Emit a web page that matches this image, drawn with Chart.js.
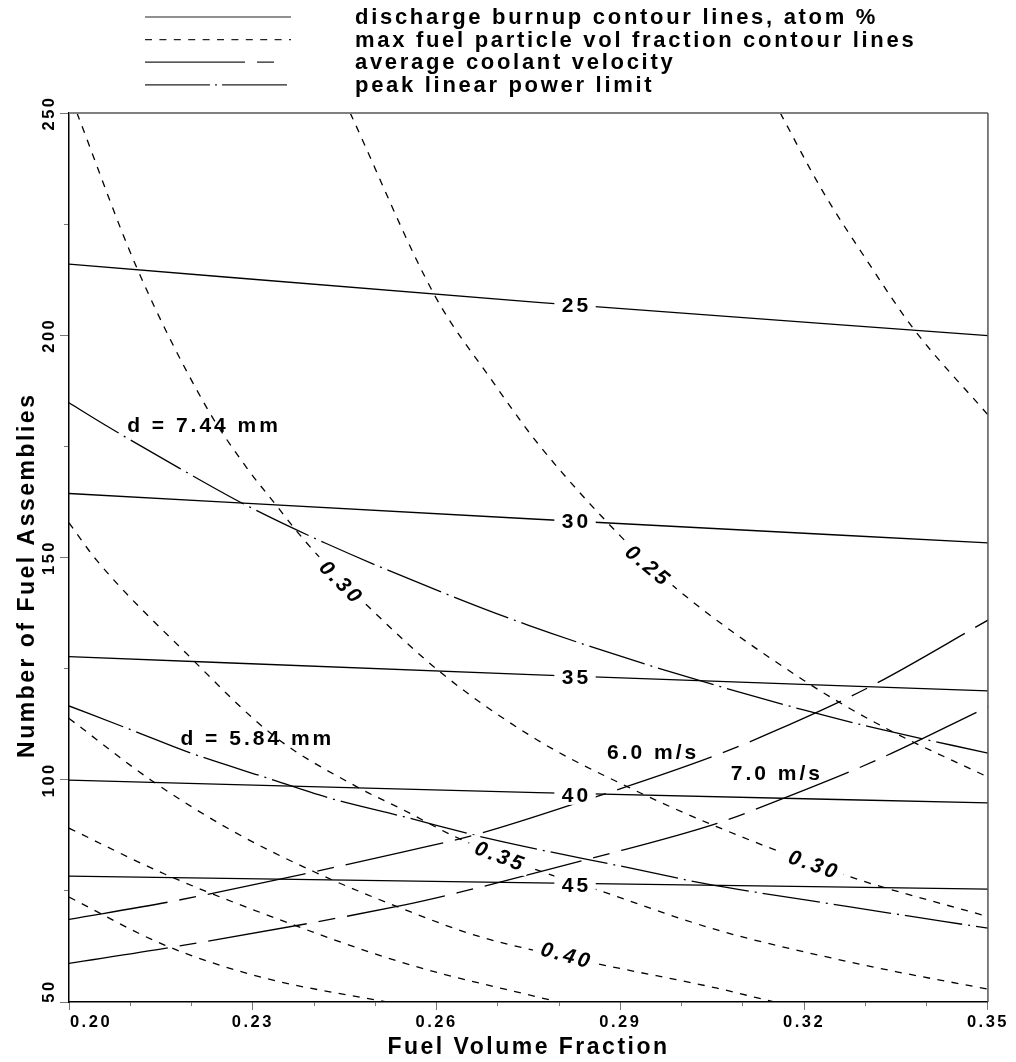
<!DOCTYPE html>
<html>
<head>
<meta charset="utf-8">
<script src="https://cdn.jsdelivr.net/npm/chart.js@4.4.1/dist/chart.umd.min.js"></script>
<style>
html,body{margin:0;padding:0;background:#ffffff;}
#wrap{width:1016px;height:1062px;position:relative;}
canvas{display:block;}
</style>
</head>
<body>
<div id="wrap"><canvas id="c" width="1016" height="1062"></canvas></div>
<script>
// ---------- data ----------
const xTickValues = [0.20,0.21,0.22,0.23,0.24,0.25,0.26,0.27,0.28,0.29,0.30,0.31,0.32,0.33,0.34,0.35];
const xLabelValues = [0.20,0.23,0.26,0.29,0.32,0.35];
const yTickValues = [50,75,100,125,150,175,200,225,250];
const yLabelValues = [50,100,150,200,250];

const xTitle = 'Fuel Volume Fraction';
const yTitle = 'Number of Fuel Assemblies';

const legendLabels = [
  'discharge burnup contour lines, atom %',
  'max fuel particle vol fraction contour lines',
  'average coolant velocity',
  'peak linear power limit'
];

// discharge burnup contour lines (atom %): [fuel volume fraction, number of assemblies]
const burnup25 = [[0.200,216.0],[0.2765,207.4],[0.350,199.9]];
const burnup30 = [[0.200,164.4],[0.2765,158.6],[0.350,153.3]];
const burnup35 = [[0.200,127.7],[0.2765,123.6],[0.350,120.0]];
const burnup40 = [[0.200,99.9],[0.2765,97.1],[0.350,94.8]];
const burnup45 = [[0.200,78.3],[0.2765,76.8],[0.350,75.4]];

// max fuel particle volume fraction contour lines
const frac020 = [[0.3161,250],[0.3229,232.7],[0.3302,216.9],[0.3380,201.2],[0.350,182.1]];
const frac025 = [[0.2459,250],[0.2598,208.7],[0.2690,189.9],[0.2765,175.7],[0.2901,154.7],[0.2988,143.4],[0.3199,122.4],[0.3329,111.9],[0.350,100.6]];
const frac030 = [[0.2013,250],[0.2110,215.4],[0.2224,183.9],[0.2289,170.4],[0.2338,161.8],[0.2370,156.2],[0.2408,150.2],[0.2489,138.9],[0.2608,124.0],[0.2765,108.9],[0.2912,98.4],[0.3058,89.4],[0.3274,78.2],[0.350,69.2]];
const frac035 = [[0.200,157.8],[0.2045,149.4],[0.2191,128.5],[0.2335,109.8],[0.2470,98.4],[0.2546,93.2],[0.2630,87.2],[0.2754,80.2],[0.2863,75.2],[0.3058,66.2],[0.3274,59.0],[0.3351,56.8],[0.350,52.9]];
const frac040 = [[0.200,113.8],[0.2134,99.9],[0.2264,88.7],[0.2400,79.3],[0.2546,70.9],[0.2668,64.8],[0.2863,58.6],[0.3058,53.1],[0.3151,50]];
const frac045 = [[0.200,89.1],[0.2156,78.8],[0.2319,69.8],[0.2546,58.8],[0.2798,50]];
const frac050 = [[0.200,73.6],[0.2156,62.8],[0.2319,55.4],[0.2518,50]];

// average coolant velocity
const vel60 = [[0.200,68.6],[0.2167,72.6],[0.2400,79.3],[0.2546,83.8],[0.2663,87.6],[0.2852,95.8],[0.3058,105.6],[0.3156,111.2],[0.3307,120.9],[0.350,135.9]];
const vel70 = [[0.200,58.7],[0.2167,62.3],[0.2546,71.8],[0.2635,74.6],[0.2852,82.3],[0.3058,90.2],[0.3166,95.8],[0.3318,104.4],[0.350,116.4]];

// peak linear power limit
const pow744 = [[0.200,184.8],[0.2059,179.8],[0.2180,170.1],[0.2283,162.2],[0.2419,153.2],[0.2614,141.9],[0.2749,134.8],[0.2955,125.4],[0.3199,115.7],[0.3329,111.2],[0.350,106.0]];
const pow584 = [[0.200,116.6],[0.2102,111.2],[0.2199,106.0],[0.2319,100.6],[0.2427,95.8],[0.2546,91.7],[0.2684,86.8],[0.2917,80.1],[0.3036,76.7],[0.3275,71.4],[0.350,66.6]];

// in-plot labels: text and where it sits (data coordinates)
const labelTexts = ['25','30','35','40','45','0.30','0.25','0.30','0.35','0.40','6.0 m/s','7.0 m/s','d = 7.44 mm','d = 5.84 mm'];
const labelAnchors = [
  {x:0.2826,y:206.8,angle:0,italic:false,box:true},
  {x:0.2826,y:158.1,angle:0,italic:false,box:true},
  {x:0.2826,y:123.1,angle:0,italic:false,box:true},
  {x:0.2826,y:96.6,angle:0,italic:false,box:true},
  {x:0.2826,y:76.3,angle:0,italic:false,box:true},
  {x:0.2443,y:144.6,angle:45,italic:true,box:true},
  {x:0.2944,y:148.3,angle:40,italic:true,box:true},
  {x:0.3214,y:81.0,angle:19,italic:true,box:true},
  {x:0.2702,y:82.9,angle:21,italic:true,box:true},
  {x:0.2810,y:60.6,angle:15,italic:true,box:true},
  {x:0.2951,y:106.1,angle:0,italic:false,box:false},
  {x:0.3153,y:101.5,angle:0,italic:false,box:false},
  {x:0.2218,y:179.8,angle:0,italic:false,box:false},
  {x:0.2305,y:109.3,angle:0,italic:false,box:false}
];

// ---------- styles ----------
const FONT = "'Liberation Sans', Arial, Helvetica, sans-serif";
const SPACING = '2.5px';
const DASH_SOLID = [];
const DASH_SHORT = [7, 7.4];
const DASH_VEL = [100, 12, 17, 12];
const DASH_POW = [58, 6, 2, 6];
const legendDashes = [DASH_SOLID, DASH_SHORT, DASH_VEL, [65, 5, 2, 5]];
const legendEnds = [291, 291, 279, 287];

function pts(a){ return a.map(p => ({x:p[0], y:p[1]})); }
function series(label, arr, dash){
  return {label, data: pts(arr), borderColor:'#000', borderWidth:1.3, borderDash:dash,
    pointRadius:0, pointHoverRadius:0, pointHitRadius:0, fill:false,
    cubicInterpolationMode:'monotone', xAxisID:'x', yAxisID:'y'};
}
const near = (list, v) => list.some(l => Math.abs(l - v) < 1e-6);

const datasets = [
  series('burnup 25', burnup25, DASH_SOLID),
  series('burnup 30', burnup30, DASH_SOLID),
  series('burnup 35', burnup35, DASH_SOLID),
  series('burnup 40', burnup40, DASH_SOLID),
  series('burnup 45', burnup45, DASH_SOLID),
  series('fraction 0.20', frac020, DASH_SHORT),
  series('fraction 0.25', frac025, DASH_SHORT),
  series('fraction 0.30', frac030, DASH_SHORT),
  series('fraction 0.35', frac035, DASH_SHORT),
  series('fraction 0.40', frac040, DASH_SHORT),
  series('fraction 0.45', frac045, DASH_SHORT),
  series('fraction 0.50', frac050, DASH_SHORT),
  series('velocity 6.0', vel60, DASH_VEL),
  series('velocity 7.0', vel70, DASH_VEL),
  series('power d=7.44', pow744, DASH_POW),
  series('power d=5.84', pow584, DASH_POW)
];

// ---------- plugins ----------
const spacingPlugin = {
  id:'letterSpacing',
  beforeInit(c){ c.ctx.letterSpacing = SPACING; },
  beforeUpdate(c){ c.ctx.letterSpacing = SPACING; },
  beforeLayout(c){ c.ctx.letterSpacing = SPACING; },
  beforeDraw(c){ c.ctx.letterSpacing = SPACING; },
  resize(c){ c.ctx.letterSpacing = SPACING; }
};

const framePlugin = {
  id:'frame',
  afterDraw(c){
    const {ctx, chartArea:a} = c;
    ctx.save();
    ctx.strokeStyle = '#808080';
    ctx.lineWidth = 2;
    ctx.beginPath();
    ctx.moveTo(a.left, a.top);
    ctx.lineTo(a.right, a.top);
    ctx.stroke();
    ctx.strokeStyle = '#555';
    ctx.lineWidth = 1.5;
    ctx.beginPath();
    ctx.moveTo(a.right, a.top);
    ctx.lineTo(a.right, a.bottom);
    ctx.stroke();
    ctx.restore();
  }
};

const labelPlugin = {
  id:'lineLabels',
  afterDatasetsDraw(c){
    const ctx = c.ctx, xs = c.scales.x, ys = c.scales.y;
    ctx.save();
    ctx.letterSpacing = '3px';
    labelTexts.forEach((t, i) => {
      const p = labelAnchors[i];
      const px = xs.getPixelForValue(p.x), py = ys.getPixelForValue(p.y);
      ctx.save();
      ctx.translate(px, py);
      ctx.rotate(p.angle * Math.PI / 180);
      ctx.font = (p.italic ? 'italic ' : '') + 'bold 21px ' + FONT;
      ctx.textAlign = 'center';
      ctx.textBaseline = 'middle';
      const w = ctx.measureText(t).width;
      if (p.box){
        ctx.fillStyle = '#fff';
        ctx.fillRect(-w/2 - 6, -10, w + 12, 20);
      }
      ctx.fillStyle = '#000';
      ctx.fillText(t, 1.5, 1);
      ctx.restore();
    });
    ctx.restore();
  }
};

const legendPlugin = {
  id:'customLegend',
  afterDraw(c){
    const ctx = c.ctx;
    ctx.save();
    ctx.letterSpacing = '2.7px';
    legendLabels.forEach((t, i) => {
      const base = 24 + i * 22.6;
      const ly = base - 7;
      ctx.beginPath();
      ctx.setLineDash(legendDashes[i]);
      ctx.lineDashOffset = 0;
      ctx.lineWidth = 1.2;
      ctx.strokeStyle = '#222';
      ctx.moveTo(145, ly);
      ctx.lineTo(legendEnds[i], ly);
      ctx.stroke();
      ctx.setLineDash([]);
      ctx.font = 'bold 22px ' + FONT;
      ctx.fillStyle = '#000';
      ctx.textAlign = 'left';
      ctx.textBaseline = 'alphabetic';
      ctx.fillText(t, 355, base);
    });
    ctx.restore();
  }
};

// ---------- chart ----------
const tickFont = {family:FONT, size:16.5, weight:'bold'};
const titleFont = {family:FONT, size:23, weight:'bold'};
const firstX = xLabelValues[0];
const firstY = yLabelValues[0];

new Chart(document.getElementById('c'), {
  type:'line',
  data:{ datasets },
  options:{
    responsive:false,
    devicePixelRatio:1,
    animation:false,
    events:[],
    layout:{ padding:{top:113, right:24, bottom:0, left:0} },
    plugins:{ legend:{display:false}, tooltip:{enabled:false}, title:{display:false} },
    scales:{
      x:{
        type:'linear', axis:'x', position:'bottom', weight:1, min:0.2, max:0.35,
        afterBuildTicks: s => { s.ticks = xTickValues.map(v => ({value:v})); },
        afterFit: s => { s.height = 60; },
        ticks:{ autoSkip:false, maxRotation:0, minRotation:0, padding:7, color:'#000', font:tickFont,
                callback: v => (near(xLabelValues, v) && !near([firstX], v)) ? v.toFixed(2) : '' },
        grid:{ drawOnChartArea:false, drawTicks:true, tickLength:4, color:'#777', lineWidth:1 },
        border:{ display:true, color:'#000', width:1.5 },
        title:{ display:true, text:xTitle, color:'#000', font:titleFont, padding:{top:0, bottom:1} }
      },
      // first x label sits to the right of its tick (as in the reference)
      xFirst:{
        type:'linear', axis:'x', position:'bottom', weight:0, min:0.2, max:0.35,
        afterBuildTicks: s => { s.ticks = [{value:firstX}]; },
        afterFit: s => { s.height = 0; },
        ticks:{ autoSkip:false, maxRotation:0, minRotation:0, mirror:true, padding:-30.8, labelOffset:22, color:'#000', font:tickFont,
                callback: v => v.toFixed(2) },
        grid:{ display:false, drawOnChartArea:false, drawTicks:false },
        border:{ display:false }
      },
      xMajor:{
        type:'linear', axis:'x', position:{y:50}, min:0.2, max:0.35,
        afterBuildTicks: s => { s.ticks = xLabelValues.map(v => ({value:v})); },
        ticks:{ display:false },
        grid:{ drawOnChartArea:false, drawTicks:true, tickLength:8, color:'#777', lineWidth:1 },
        border:{ display:false }
      },
      y:{
        type:'linear', axis:'y', position:'left', weight:1, min:50, max:250,
        afterBuildTicks: s => { s.ticks = yTickValues.map(v => ({value:v})); },
        afterFit: s => { s.width = 69; },
        ticks:{ autoSkip:false, minRotation:90, maxRotation:90, crossAlign:'center', padding:-3, color:'#000', font:tickFont,
                callback: v => (near(yLabelValues, v) && v !== firstY) ? String(v) : '' },
        grid:{ drawOnChartArea:false, drawTicks:true, tickLength:5, color:'#777', lineWidth:1 },
        border:{ display:true, color:'#000', width:1.5 },
        title:{ display:true, text:yTitle + '    ', color:'#000', font:titleFont, padding:{top:14, bottom:0} }
      },
      // first y label sits above its tick (as in the reference)
      yFirst:{
        type:'linear', axis:'y', position:'left', weight:0, min:50, max:250,
        afterBuildTicks: s => { s.ticks = [{value:firstY}]; },
        afterFit: s => { s.width = 0; },
        ticks:{ autoSkip:false, minRotation:90, maxRotation:90, crossAlign:'center', mirror:true, padding:-31.2, labelOffset:-11, color:'#000', font:tickFont,
                callback: v => String(v) },
        grid:{ display:false, drawOnChartArea:false, drawTicks:false },
        border:{ display:false }
      },
      yMajor:{
        type:'linear', axis:'y', position:{x:0.2}, min:50, max:250,
        afterBuildTicks: s => { s.ticks = yLabelValues.map(v => ({value:v})); },
        ticks:{ display:false },
        grid:{ drawOnChartArea:false, drawTicks:true, tickLength:9, color:'#777', lineWidth:1 },
        border:{ display:false }
      }
    }
  },
  plugins:[spacingPlugin, labelPlugin, framePlugin, legendPlugin]
});
</script>
</body>
</html>
